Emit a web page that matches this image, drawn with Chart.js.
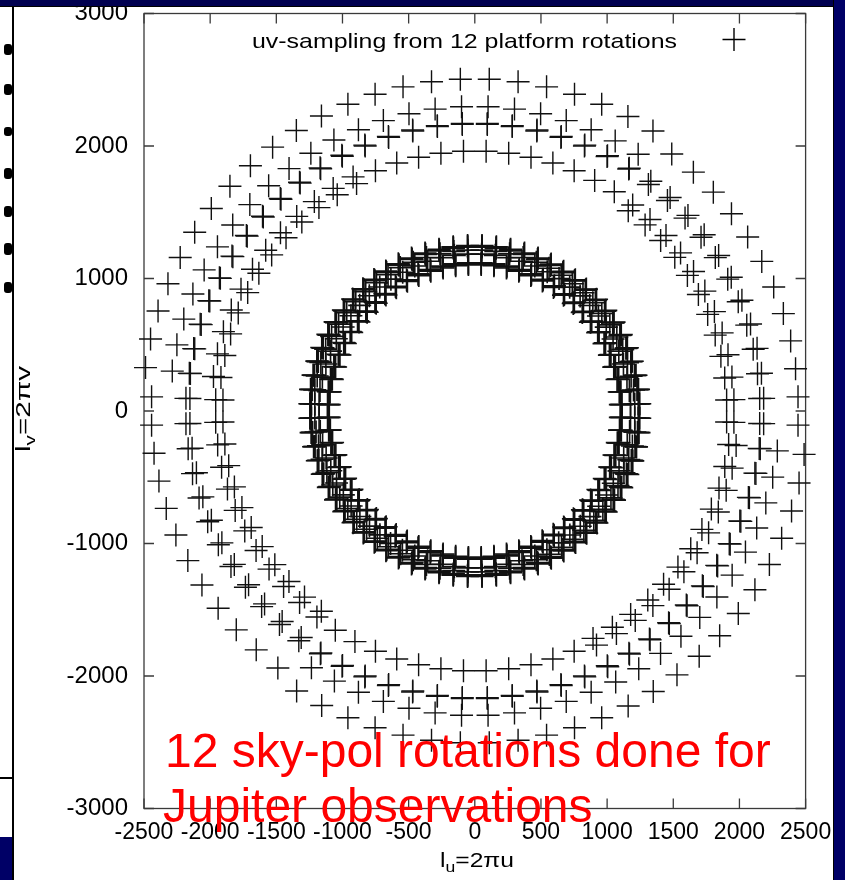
<!DOCTYPE html>
<html>
<head>
<meta charset="utf-8">
<script src="https://cdn.jsdelivr.net/npm/chart.js@4.4.0/dist/chart.umd.min.js"></script>
<style>
  html, body { margin: 0; padding: 0; }
  body { width: 845px; height: 880px; background: #000066; position: relative; overflow: hidden; }
  #sheet { position: absolute; left: 14px; top: 7px; width: 819px; height: 873px; background: #fff; }
  #strip { position: absolute; left: 0; top: 7px; width: 12px; height: 830px; background: #fff; }
  #strip-rule { position: absolute; left: 0; top: 777px; width: 13px; height: 2px; background: #000; }
  #edge { position: absolute; left: 12px; top: 7px; width: 2px; height: 873px; background: #000; }
  .blob { position: absolute; left: 4px; width: 8px; height: 11px; background: #000; border-radius: 3px; }
  #top-band { position: absolute; left: 0; top: 0; width: 845px; height: 6px; background: #000050; border-bottom: 1px solid #000; z-index: 2; }
  #right-band { position: absolute; left: 833px; top: 0; width: 12px; height: 880px; background: #000066; border-left: 1px solid #000; z-index: 2; }
  canvas { position: absolute; left: 0; top: 0; z-index: 1; }
</style>
</head>
<body>
<div id="sheet"></div>
<div id="strip"></div>
<div id="strip-rule"></div>
<div id="edge"></div>
<div class="blob" style="top:44px"></div>
<div class="blob" style="top:84px"></div>
<div class="blob" style="top:127px;height:9px"></div>
<div class="blob" style="top:168px"></div>
<div class="blob" style="top:206px"></div>
<div class="blob" style="top:243px;height:12px"></div>
<div class="blob" style="top:282px"></div>
<div id="top-band"></div>
<div id="right-band"></div>
<canvas id="uv" width="845" height="880"></canvas>
<script>
// platform rotation of each of the 12 snapshots (deg)
const rotationSteps = [0, 5, 10, 15, 20, 25, 30, 35, 40, 45, 50, 55];
// position angle of each baseline group at the first rotation (deg)
const trackStart = [57.5, 117.5, 177.5];
// baseline lengths per group, long spacings
const outerLengths = [
  [2506, 2298, 2172, 2165, 1962],
  [2510, 2306, 2176, 2168, 1992, 1935],
  [2445, 2185, 2155, 1960, 1905]
];
// baseline lengths per group, short spacings
const innerLengths = [
  [1250, 1244, 1238, 1215, 1185, 1120, 1113, 1106],
  [1252, 1246, 1240, 1220, 1180, 1117, 1110, 1103],
  [1248, 1242, 1236, 1210, 1178, 1114, 1108, 1101]
];
const xTicks = [-2500, -2000, -1500, -1000, -500, 0, 500, 1000, 1500, 2000, 2500];
const yTicks = [-3000, -2000, -1000, 0, 1000, 2000, 3000];

const FONT = '"Liberation Sans", Arial, Helvetica, sans-serif';

// each baseline sweeps 12 points, plus the conjugate point (-u,-v)
function sweep(lengthSets) {
  const pts = [];
  trackStart.forEach((start, g) => {
    lengthSets[g].forEach(len => {
      rotationSteps.forEach(rot => {
        const a = (start + rot) * Math.PI / 180;
        const u = len * Math.cos(a), v = len * Math.sin(a);
        pts.push({ x: u, y: v }, { x: -u, y: -v });
      });
    });
  });
  return pts;
}

// "l" + subscript + rest, centred on x, stretched to the given width
function subLabel(ctx, x, y, size, width, main, sub, rest) {
  const small = Math.round(size * 0.7);
  ctx.font = size + 'px ' + FONT;
  const w1 = ctx.measureText(main).width;
  const w3 = ctx.measureText(rest).width;
  ctx.font = small + 'px ' + FONT;
  const w2 = ctx.measureText(sub).width;
  const total = w1 + w2 + w3;
  ctx.save();
  ctx.translate(x, y);
  ctx.scale(width / total, 1);
  ctx.textAlign = 'left';
  ctx.textBaseline = 'alphabetic';
  let cx = -total / 2;
  ctx.font = size + 'px ' + FONT;
  ctx.fillText(main, cx, 0);
  cx += w1;
  ctx.font = small + 'px ' + FONT;
  ctx.fillText(sub, cx, size * 0.25);
  cx += w2;
  ctx.font = size + 'px ' + FONT;
  ctx.fillText(rest, cx, 0);
  ctx.restore();
}

const gnuFrame = {
  id: 'gnuFrame',
  beforeDatasetsDraw(chart) {
    const { ctx, chartArea: a, scales: { x, y } } = chart;
    ctx.save();
    ctx.strokeStyle = '#3a3a3a';
    ctx.lineWidth = 1.3;
    ctx.strokeRect(a.left, a.top, a.right - a.left, a.bottom - a.top);
    ctx.beginPath();
    xTicks.forEach(v => {
      const px = x.getPixelForValue(v);
      ctx.moveTo(px, a.bottom); ctx.lineTo(px, a.bottom - 10);
      ctx.moveTo(px, a.top); ctx.lineTo(px, a.top + 10);
    });
    yTicks.forEach(v => {
      const py = y.getPixelForValue(v);
      ctx.moveTo(a.left, py); ctx.lineTo(a.left + 10, py);
      ctx.moveTo(a.right, py); ctx.lineTo(a.right - 10, py);
    });
    ctx.stroke();
    ctx.restore();
  },
  afterDraw(chart) {
    const { ctx } = chart;
    ctx.save();
    // key
    const label = 'uv-sampling from 12 platform rotations';
    ctx.fillStyle = '#000';
    ctx.font = '21px ' + FONT;
    const w = ctx.measureText(label).width;
    ctx.save();
    ctx.translate(677, 48);
    ctx.scale(425 / w, 1);
    ctx.textAlign = 'right';
    ctx.textBaseline = 'alphabetic';
    ctx.fillText(label, 0, 0);
    ctx.restore();
    ctx.strokeStyle = '#000';
    ctx.lineWidth = 1.4;
    ctx.beginPath();
    ctx.moveTo(722.5, 39.5); ctx.lineTo(745.5, 39.5);
    ctx.moveTo(734, 28); ctx.lineTo(734, 51);
    ctx.stroke();

    // axis titles
    ctx.fillStyle = '#000';
    subLabel(ctx, 477, 867, 21, 74, 'l', 'u', '=2\u03C0u');
    ctx.save();
    ctx.translate(30, 409);
    ctx.rotate(-Math.PI / 2);
    subLabel(ctx, 0, 0, 20, 86, 'l', 'v', '=2\u03C0v');
    ctx.restore();

    // slide annotation
    ctx.fillStyle = '#ff0000';
    ctx.font = '48px ' + FONT;
    ctx.textAlign = 'left';
    ctx.textBaseline = 'alphabetic';
    ctx.fillText('12 sky-pol rotations done for', 165, 767);
    ctx.fillText('Jupiter observations', 163, 822);
    ctx.restore();
  }
};

const crossStyle = {
  pointStyle: 'cross',
  pointRadius: 11.5,
  pointHoverRadius: 11.5,
  borderColor: '#111',
  backgroundColor: 'rgba(0,0,0,0)',
  clip: false
};

new Chart(document.getElementById('uv'), {
  type: 'scatter',
  data: {
    datasets: [
      Object.assign({ label: 'long baselines', data: sweep(outerLengths), borderWidth: 1.4 }, crossStyle),
      Object.assign({ label: 'short baselines', data: sweep(innerLengths), borderWidth: 1.6 }, crossStyle)
    ]
  },
  options: {
    responsive: false,
    animation: false,
    devicePixelRatio: 1,
    layout: { padding: { left: 0, top: 0, right: 39.4, bottom: 0 } },
    plugins: { legend: { display: false }, tooltip: { enabled: false } },
    scales: {
      x: {
        type: 'linear', min: -2500, max: 2500,
        afterFit: s => { s.height = 71.5; s.paddingLeft = 0; s.paddingRight = 0; },
        grid: { display: false, drawTicks: false },
        border: { display: false },
        ticks: {
          stepSize: 500, autoSkip: false, maxRotation: 0, minRotation: 0, padding: 13,
          color: '#000', font: { family: FONT, size: 23, lineHeight: 1 },
          callback: v => String(v)
        }
      },
      y: {
        type: 'linear', min: -3000, max: 3000,
        afterFit: s => { s.width = 144; s.paddingTop = 13.5; s.paddingBottom = 0; },
        grid: { display: false, drawTicks: false },
        border: { display: false },
        ticks: {
          stepSize: 1000, autoSkip: false, padding: 16,
          color: '#000', font: { family: FONT, size: 24, lineHeight: 1 },
          callback: v => String(v)
        }
      }
    }
  },
  plugins: [gnuFrame]
});
</script>
</body>
</html>
